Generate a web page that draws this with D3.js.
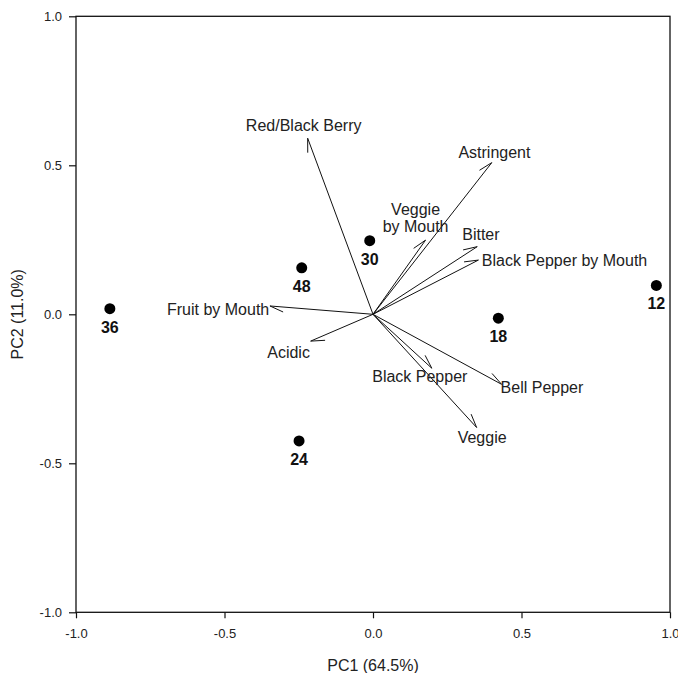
<!DOCTYPE html>
<html>
<head>
<meta charset="utf-8">
<script src="https://cdn.jsdelivr.net/npm/d3@7"></script>
<style>
  html, body { margin: 0; padding: 0; background: #fff; }
  svg { display: block; font-family: "Liberation Sans", Arial, sans-serif; }
</style>
</head>
<body>
<svg id="chart" width="678" height="673"></svg>
<script>
// Sample scores on the first two principal components
const sampleLabels = ["36", "48", "30", "18", "12", "24"];
const pc1Scores = [-0.886, -0.240, -0.011, 0.422, 0.954, -0.249];
const pc2Scores = [0.019, 0.156, 0.247, -0.013, 0.097, -0.425];

// Attribute loadings (vector tips)
const attributes = ["Red/Black Berry", "Astringent", "Veggie\nby Mouth", "Bitter",
  "Black Pepper by Mouth", "Fruit by Mouth", "Acidic", "Black Pepper", "Bell Pepper", "Veggie"];
const pc1Loadings = [-0.220, 0.400, 0.177, 0.351, 0.355, -0.347, -0.210, 0.198, 0.433, 0.349];
const pc2Loadings = [0.591, 0.509, 0.249, 0.227, 0.182, 0.028, -0.090, -0.181, -0.235, -0.380];

// Axis ticks
const tickValues = [-1, -0.5, 0, 0.5, 1];
const tickLabels = ["-1.0", "-0.5", "0.0", "0.5", "1.0"];
const xTitle = "PC1 (64.5%)";
const yTitle = "PC2 (11.0%)";

// Label placement for each attribute vector: [dx, dy, anchor] relative to the tip
const attrLabelPlacement = [
  [-4, -7.6, "middle"], [-33.4, -4.4, "start"], [-10, -25, "middle"], [-15, -6.7, "start"],
  [3.4, 6, "start"], [-0.7, 9, "end"], [-0.7, 16.7, "end"], [-12, 13.4, "middle"],
  [-1, 9, "start"], [5.5, 15.7, "middle"]
];

const svg = d3.select("#chart");
const plotLeft = 76, plotRight = 670, plotTop = 16.3, plotBottom = 612.3;

const x = d3.scaleLinear().domain([-1, 1]).range([plotLeft, plotRight]);
const y = d3.scaleLinear().domain([-1, 1]).range([plotBottom, plotTop]);

const ink = "#111";

// Axes
const xAxis = d3.axisBottom(x).tickValues(tickValues)
  .tickFormat((d, i) => tickLabels[i]).tickSize(6).tickSizeOuter(0).tickPadding(10);
const yAxis = d3.axisLeft(y).tickValues(tickValues)
  .tickFormat((d, i) => tickLabels[i]).tickSize(7).tickSizeOuter(0).tickPadding(7);

const gx = svg.append("g").attr("transform", `translate(0,${plotBottom})`).call(xAxis);
const gy = svg.append("g").attr("transform", `translate(${plotLeft},0)`).call(yAxis);
[gx, gy].forEach(g => {
  g.select(".domain").remove();
  g.selectAll(".tick line").attr("stroke", ink).attr("stroke-width", 1.2);
  g.selectAll(".tick text").attr("fill", "#222").attr("font-size", 13)
    .attr("font-family", "'Liberation Sans', Arial, sans-serif");
});

// Plot frame
svg.append("rect")
  .attr("x", plotLeft).attr("y", plotTop)
  .attr("width", plotRight - plotLeft).attr("height", plotBottom - plotTop)
  .attr("fill", "none").attr("stroke", ink).attr("stroke-width", 1.3);

// Axis titles
svg.append("text")
  .attr("x", (plotLeft + plotRight) / 2).attr("y", 670.7)
  .attr("text-anchor", "middle").attr("font-size", 16).attr("fill", "#222")
  .text(xTitle);
svg.append("text")
  .attr("transform", `translate(22.7,${(plotTop + plotBottom) / 2}) rotate(-90)`)
  .attr("text-anchor", "middle").attr("font-size", 16).attr("fill", "#222")
  .text(yTitle);

// Attribute vectors with single-barb heads
const vectors = attributes.map((name, i) => ({
  name, px: pc1Loadings[i], py: pc2Loadings[i], place: attrLabelPlacement[i]
}));
const barbLen = 14.5, barbAngle = 20 * Math.PI / 180;
const gv = svg.append("g").attr("stroke", ink).attr("stroke-width", 1).attr("fill", "none");
vectors.forEach(v => {
  const x0 = x(0), y0 = y(0), x1 = x(v.px), y1 = y(v.py);
  gv.append("line").attr("x1", x0).attr("y1", y0).attr("x2", x1).attr("y2", y1);
  const back = Math.atan2(y0 - y1, x0 - x1) + barbAngle;
  gv.append("line").attr("x1", x1).attr("y1", y1)
    .attr("x2", x1 + barbLen * Math.cos(back)).attr("y2", y1 + barbLen * Math.sin(back));
});

const gl = svg.append("g").attr("font-size", 16).attr("fill", "#222");
vectors.forEach(v => {
  const [dx, dy, anchor] = v.place;
  const t = gl.append("text")
    .attr("x", x(v.px) + dx).attr("y", y(v.py) + dy)
    .attr("text-anchor", anchor);
  v.name.split("\n").forEach((line, k) => {
    t.append("tspan").attr("x", x(v.px) + dx).attr("dy", k === 0 ? 0 : 16.7).text(line);
  });
});

// Sample points with bold labels
const samples = sampleLabels.map((s, i) => ({ s, px: pc1Scores[i], py: pc2Scores[i] }));
svg.append("g").selectAll("circle").data(samples).join("circle")
  .attr("cx", d => x(d.px)).attr("cy", d => y(d.py)).attr("r", 5.5).attr("fill", "#000");
svg.append("g").selectAll("text").data(samples).join("text")
  .attr("x", d => x(d.px)).attr("y", d => y(d.py) + 24)
  .attr("text-anchor", "middle").attr("font-size", 16).attr("font-weight", "bold")
  .attr("fill", "#111").text(d => d.s);
</script>
</body>
</html>
